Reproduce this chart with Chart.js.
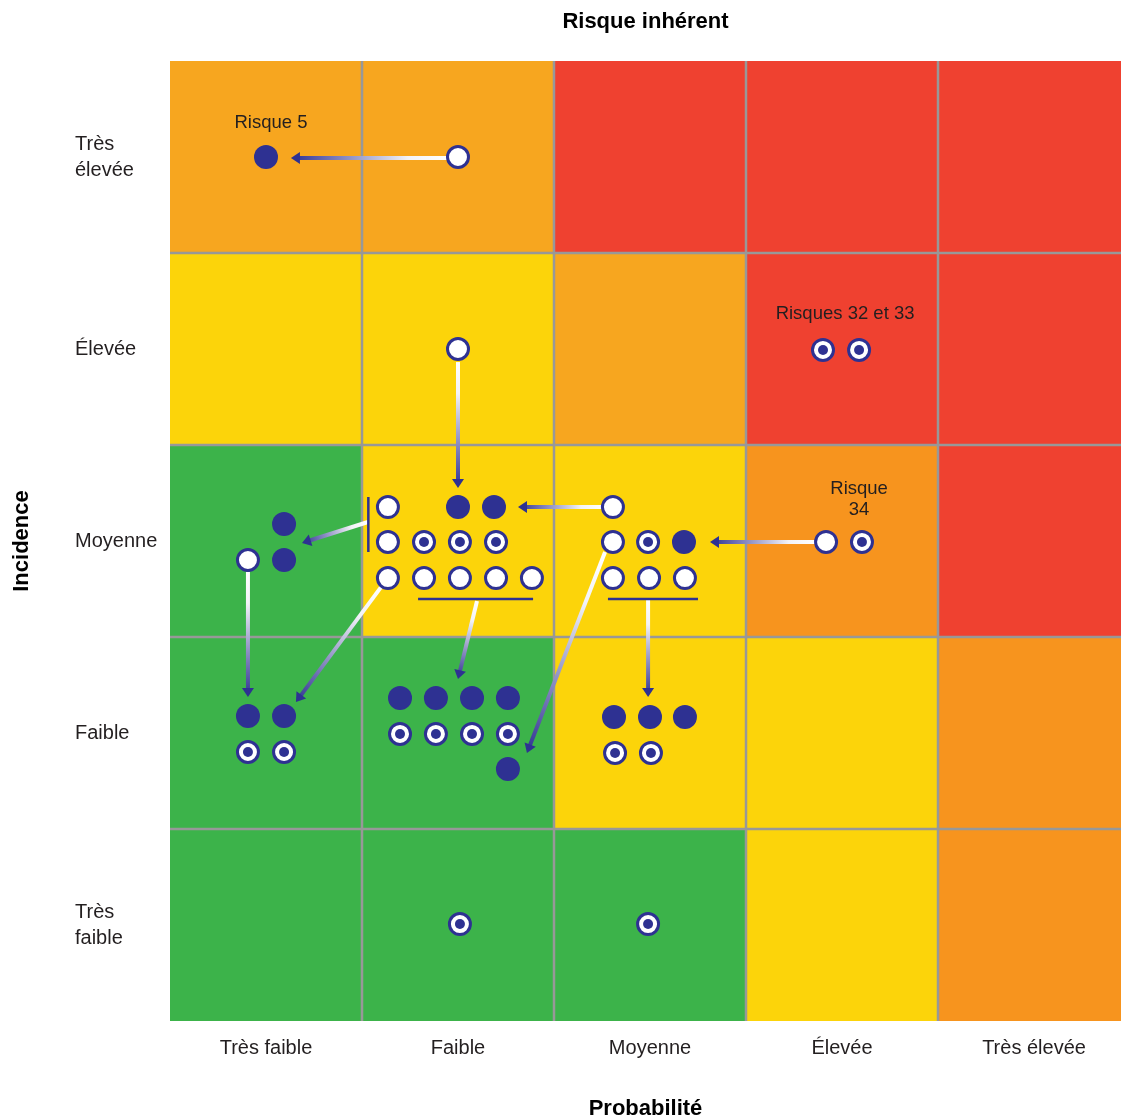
<!DOCTYPE html>
<html lang="fr">
<head>
<meta charset="utf-8">
<title>Risque inhérent et risque résiduel</title>
<script src="https://cdn.jsdelivr.net/npm/chart.js@4/dist/chart.umd.min.js"></script>
<style>
  html, body { margin: 0; padding: 0; background: #fff; overflow: hidden; }
  #carte { display: block; }
</style>
</head>
<body>
<canvas id="carte" width="1121" height="1120"></canvas>
<script>
// Axis categories
const probabilite = ['Très faible', 'Faible', 'Moyenne', 'Élevée', 'Très élevée'];
const incidence = [['Très', 'faible'], 'Faible', 'Moyenne', 'Élevée', ['Très', 'élevée']];

// Rating of each cell: rows from "très faible" incidence upward, columns by probabilité
const cellRatings = [
  ['vert',  'vert',  'vert',  'jaune',  'orange'],
  ['vert',  'vert',  'jaune', 'jaune',  'orange'],
  ['vert',  'jaune', 'jaune', 'orange', 'rouge'],
  ['jaune', 'jaune', 'ambre', 'rouge',  'rouge'],
  ['ambre', 'ambre', 'rouge', 'rouge',  'rouge']
];
const ratingColors = {
  vert: '#3CB34A', jaune: '#FCD40A', ambre: '#F7A61F', orange: '#F7941E', rouge: '#EF4130'
};

// Risks placed on the grid (x = probabilité, y = incidence, one unit per class)
const risquesInherents = [
  {x: 1.5, y: 4.5}, {x: 1.5, y: 3.5},
  {x: 1.135, y: 2.677}, {x: 1.135, y: 2.495},
  {x: 1.135, y: 2.307}, {x: 1.323, y: 2.307}, {x: 1.51, y: 2.307}, {x: 1.698, y: 2.307}, {x: 1.885, y: 2.307},
  {x: 2.307, y: 2.677}, {x: 2.307, y: 2.495},
  {x: 2.307, y: 2.307}, {x: 2.495, y: 2.307}, {x: 2.682, y: 2.307},
  {x: 3.417, y: 2.495}, {x: 0.406, y: 2.401}
];
const risquesResiduels = [
  {x: 0.5, y: 4.5},
  {x: 1.5, y: 2.677}, {x: 1.6875, y: 2.677}, {x: 2.677, y: 2.495},
  {x: 0.594, y: 2.589}, {x: 0.594, y: 2.401},
  {x: 0.406, y: 1.589}, {x: 0.594, y: 1.589},
  {x: 1.198, y: 1.682}, {x: 1.385, y: 1.682}, {x: 1.573, y: 1.682}, {x: 1.76, y: 1.682},
  {x: 1.76, y: 1.3125},
  {x: 2.3125, y: 1.583}, {x: 2.5, y: 1.583}, {x: 2.682, y: 1.583}
];
const risquesInchanges = [
  {x: 3.401, y: 3.495}, {x: 3.589, y: 3.495},
  {x: 1.323, y: 2.495}, {x: 1.51, y: 2.495}, {x: 1.698, y: 2.495},
  {x: 2.49, y: 2.495}, {x: 3.604, y: 2.495},
  {x: 0.406, y: 1.401}, {x: 0.594, y: 1.401},
  {x: 1.198, y: 1.495}, {x: 1.385, y: 1.495}, {x: 1.573, y: 1.495}, {x: 1.76, y: 1.495},
  {x: 2.318, y: 1.396}, {x: 2.505, y: 1.396},
  {x: 1.51, y: 0.505}, {x: 2.49, y: 0.505}
];

// Movements from inherent to residual position: [x0, y0, x1, y1]
const fleches = [
  [1.443, 4.495, 0.63, 4.495],
  [1.5, 3.432, 1.5, 2.776],
  [2.25, 2.677, 1.8125, 2.677],
  [3.359, 2.495, 2.8125, 2.495],
  [1.031, 2.599, 0.6875, 2.49],
  [0.406, 2.339, 0.406, 1.6875],
  [1.099, 2.26, 0.656, 1.661],
  [1.599, 2.1875, 1.5, 1.781],
  [2.266, 2.443, 1.859, 1.396],
  [2.49, 2.193, 2.49, 1.6875]
];

// Group brackets: [x0, y0, x1, y1]
const accolades = [
  [1.033, 2.729, 1.033, 2.443],
  [1.292, 2.198, 1.891, 2.198],
  [2.281, 2.198, 2.75, 2.198]
];

// Callouts
const notes = [
  {lines: ['Risque 5'], x: 0.526, y: 4.677},
  {lines: ['Risques 32 et 33'], x: 3.516, y: 3.682},
  {lines: ['Risque', '34'], x: 3.589, y: 2.716}
];

const NAVY = '#2E3192';
const TEXT = '#231F20';
const FONT = "'Liberation Sans', Arial, Helvetica, sans-serif";
Chart.defaults.font.family = FONT;

const centres = [0.5, 1.5, 2.5, 3.5, 4.5];

// Coloured cells and interior grid lines
const cellsPlugin = {
  id: 'cells',
  beforeDraw(chart) {
    const {ctx, chartArea: a, scales: {x, y}} = chart;
    ctx.save();
    ctx.beginPath();
    ctx.rect(a.left, a.top, a.right - a.left, a.bottom - a.top);
    ctx.clip();
    cellRatings.forEach((row, r) => {
      row.forEach((rating, c) => {
        const x0 = x.getPixelForValue(c), x1 = x.getPixelForValue(c + 1);
        const y0 = y.getPixelForValue(r + 1), y1 = y.getPixelForValue(r);
        ctx.fillStyle = ratingColors[rating];
        ctx.fillRect(x0, y0, x1 - x0 + 0.5, y1 - y0 + 0.5);
      });
    });
    ctx.strokeStyle = '#989898';
    ctx.lineWidth = 2.5;
    for (let i = 1; i < 5; i++) {
      const px = x.getPixelForValue(i);
      ctx.beginPath(); ctx.moveTo(px, a.top); ctx.lineTo(px, a.bottom); ctx.stroke();
      const py = y.getPixelForValue(i);
      ctx.beginPath(); ctx.moveTo(a.left, py); ctx.lineTo(a.right, py); ctx.stroke();
    }
    ctx.restore();
  }
};

// Gradient arrows (white at the inherent end, navy at the residual end)
const arrowsPlugin = {
  id: 'arrows',
  beforeDatasetsDraw(chart) {
    const {ctx, scales: {x, y}} = chart;
    const headLen = 9, headHalf = 6;
    ctx.save();
    fleches.forEach(([ax, ay, bx, by]) => {
      const x0 = x.getPixelForValue(ax), y0 = y.getPixelForValue(ay);
      const x1 = x.getPixelForValue(bx), y1 = y.getPixelForValue(by);
      const len = Math.hypot(x1 - x0, y1 - y0);
      const ux = (x1 - x0) / len, uy = (y1 - y0) / len;
      const bxp = x1 - ux * headLen, byp = y1 - uy * headLen;
      const g = ctx.createLinearGradient(x0, y0, x1, y1);
      g.addColorStop(0, '#ffffff');
      g.addColorStop(0.25, '#f3f3f8');
      g.addColorStop(1, NAVY);
      ctx.strokeStyle = g;
      ctx.lineWidth = 4;
      ctx.lineCap = 'butt';
      ctx.beginPath(); ctx.moveTo(x0, y0); ctx.lineTo(bxp + ux, byp + uy); ctx.stroke();
      ctx.fillStyle = NAVY;
      ctx.beginPath();
      ctx.moveTo(x1, y1);
      ctx.lineTo(bxp - uy * headHalf, byp + ux * headHalf);
      ctx.lineTo(bxp + uy * headHalf, byp - ux * headHalf);
      ctx.closePath();
      ctx.fill();
    });
    ctx.restore();
  }
};

// Callout texts
const notesPlugin = {
  id: 'notes',
  afterDatasetsDraw(chart) {
    const {ctx, scales: {x, y}} = chart;
    const lh = 21;
    ctx.save();
    ctx.font = '18.5px ' + FONT;
    ctx.fillStyle = TEXT;
    ctx.textAlign = 'center';
    ctx.textBaseline = 'middle';
    notes.forEach(n => {
      const px = x.getPixelForValue(n.x), py = y.getPixelForValue(n.y);
      const top = py - (n.lines.length - 1) * lh / 2;
      n.lines.forEach((t, i) => ctx.fillText(t, px, top + i * lh));
    });
    ctx.restore();
  }
};

const datasets = [
  {
    label: 'Risque résiduel',
    data: risquesResiduels,
    pointRadius: 12, pointHoverRadius: 12,
    pointBackgroundColor: NAVY, pointBorderWidth: 0, pointBorderColor: NAVY
  },
  {
    label: 'Risque inchangé (centre)',
    data: risquesInchanges,
    pointRadius: 5, pointHoverRadius: 5,
    pointBackgroundColor: NAVY, pointBorderWidth: 0, pointBorderColor: NAVY
  },
  {
    label: 'Risque inchangé',
    data: risquesInchanges,
    pointRadius: 10.5, pointHoverRadius: 10.5,
    pointBackgroundColor: '#ffffff', pointBorderWidth: 3, pointBorderColor: NAVY
  },
  {
    label: 'Risque inhérent',
    data: risquesInherents,
    pointRadius: 10.5, pointHoverRadius: 10.5,
    pointBackgroundColor: '#ffffff', pointBorderWidth: 3, pointBorderColor: NAVY
  }
].concat(accolades.map((a, i) => ({
  label: 'Groupe ' + (i + 1),
  data: [{x: a[0], y: a[1]}, {x: a[2], y: a[3]}],
  showLine: true,
  borderColor: NAVY,
  borderWidth: 2.5,
  pointRadius: 0,
  pointHoverRadius: 0
})));

const hidden = {display: false, drawTicks: false};

new Chart(document.getElementById('carte'), {
  type: 'scatter',
  data: {datasets},
  options: {
    responsive: false,
    animation: false,
    devicePixelRatio: 1,
    events: [],
    layout: {padding: 0, autoPadding: false},
    plugins: {legend: {display: false}, tooltip: {enabled: false}},
    scales: {
      x: {
        type: 'linear',
        position: 'bottom',
        min: 0,
        max: 951 / 192,
        afterBuildTicks: s => { s.ticks = centres.map(v => ({value: v})); },
        afterFit: s => { s.height = 99; s.paddingLeft = 0; s.paddingRight = 0; },
        ticks: {
          callback: v => probabilite[Math.floor(v)],
          font: {size: 20, lineHeight: 1.3},
          color: TEXT,
          padding: 14,
          maxRotation: 0,
          autoSkip: false
        },
        grid: hidden,
        border: {display: false},
        title: {
          display: true,
          text: 'Probabilité',
          font: {size: 22, weight: 'bold', lineHeight: 1.0},
          color: '#000',
          padding: {top: 0, bottom: 0}
        }
      },
      x2: {
        type: 'linear',
        position: 'top',
        min: 0,
        max: 951 / 192,
        afterFit: s => { s.height = 61; s.paddingLeft = 0; s.paddingRight = 0; },
        ticks: {display: false},
        grid: hidden,
        border: {display: false},
        title: {
          display: true,
          text: 'Risque inhérent',
          font: {size: 22, weight: 'bold'},
          color: '#000',
          padding: {top: 9, bottom: 0}
        }
      },
      // outer left axis: carries only the "Incidence" title
      y2: {
        type: 'linear',
        position: 'left',
        weight: 1,
        min: 0,
        max: 5,
        afterFit: s => { s.width = 75; },
        ticks: {display: false},
        grid: hidden,
        border: {display: false},
        title: {
          display: true,
          text: 'Incidence',
          font: {size: 22, weight: 'bold'},
          color: '#000',
          padding: {top: 9, bottom: 0}
        }
      },
      y: {
        type: 'linear',
        position: 'left',
        weight: 0,
        min: 0,
        max: 5,
        afterBuildTicks: s => { s.ticks = centres.map(v => ({value: v})); },
        afterFit: s => { s.width = 95; },
        ticks: {
          callback: v => incidence[Math.floor(v)],
          font: {size: 20, lineHeight: 1.3},
          color: TEXT,
          crossAlign: 'far',
          padding: 0,
          autoSkip: false
        },
        grid: hidden,
        border: {display: false}
      }
    }
  },
  plugins: [cellsPlugin, arrowsPlugin, notesPlugin]
});
</script>
</body>
</html>
